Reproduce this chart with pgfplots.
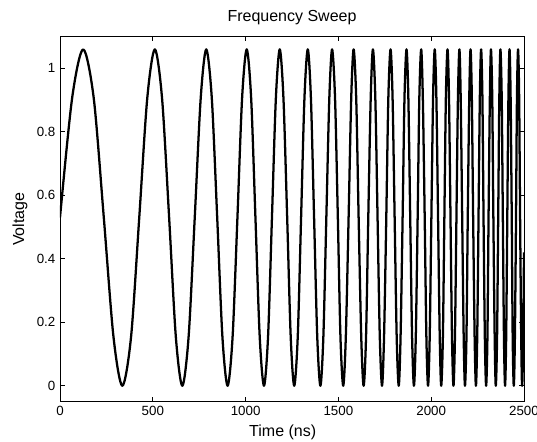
\documentclass[border=0pt]{standalone}
\usepackage{pgfplots}
\pgfplotsset{compat=1.18}
\usepackage{fontspec}
\setmainfont{Liberation Sans}
\begin{document}
\begin{tikzpicture}
\useasboundingbox (-45pt,-30.25pt) rectangle (357.75pt,301.25pt);
\begin{axis}[
  at={(0,0)}, anchor=south west,
  scale only axis, width=348pt, height=273.75pt,
  xmin=0, xmax=2500, ymin=-0.05, ymax=1.1,
  xtick={0,500,1000,1500,2000,2500},
  ytick={0,0.2,0.4,0.6,0.8,1},
  xtick pos=both, ytick pos=both,
  tick align=inside, major tick length=3.5pt,
  scaled x ticks=false, scaled y ticks=false,
  /pgf/number format/1000 sep={},
  /pgf/number format/assume math mode=true,
  tick label style={font=\fontsize{10}{11}\selectfont},
  axis line style={line width=0.6pt},
  every tick/.style={line width=0.6pt, black},
  title={Frequency Sweep},
  title style={at={(axis description cs:0.5,1)}, anchor=base, yshift=5pt, font=\fontsize{12}{14}\selectfont},
  xlabel={Time (ns)},
  xlabel style={at={(axis description cs:0.48,0)}, anchor=base, yshift=-26.5pt, font=\fontsize{12}{14}\selectfont},
  ylabel={Voltage},
  ylabel style={at={(axis description cs:-0.0862,0.5)}, anchor=center, font=\fontsize{12}{14}\selectfont},
]
\addplot[black, line width=1.7pt, smooth, line join=round] coordinates {
(0,0.53) (65,0.905) (125,1.06) (182,0.905) (236,0.53) (288,0.155) (336,0) (383,0.155)
(427,0.53) (470,0.905) (511,1.06) (550,0.905) (588,0.53) (624,0.155) (659,0) (693,0.155)
(726,0.53) (758,0.905) (788,1.06) (818,0.905) (847,0.53) (875,0.155) (903,0) (930,0.155)
(956,0.53) (981,0.905) (1006,1.06) (1030,0.905) (1053,0.53) (1076,0.155) (1099,0) (1121,0.155)
(1142,0.53) (1163,0.905) (1184,1.06) (1204,0.905) (1224,0.53) (1243,0.155) (1262,0) (1281,0.155)
(1299,0.53) (1317,0.905) (1335,1.06) (1352,0.905) (1369,0.53) (1386,0.155) (1403,0) (1419,0.155)
(1435,0.53) (1451,0.905) (1466,1.06) (1482,0.905) (1497,0.53) (1511,0.155) (1526,0) (1540,0.155)
(1555,0.53) (1569,0.905) (1582,1.06) (1596,0.905) (1609,0.53) (1623,0.155) (1636,0) (1649,0.155)
(1661,0.53) (1674,0.905) (1686,1.06) (1699,0.905) (1711,0.53) (1723,0.155) (1735,0) (1746,0.155)
(1758,0.53) (1769,0.905) (1781,1.06) (1792,0.905) (1803,0.53) (1814,0.155) (1825,0) (1835,0.155)
(1846,0.53) (1856,0.905) (1867,1.06) (1877,0.905) (1887,0.53) (1897,0.155) (1907,0) (1917,0.155)
(1927,0.53) (1936,0.905) (1946,1.06) (1955,0.905) (1965,0.53) (1974,0.155) (1983,0) (1992,0.155)
(2001,0.53) (2010,0.905) (2019,1.06) (2028,0.905) (2037,0.53) (2046,0.155) (2054,0) (2063,0.155)
(2071,0.53) (2079,0.905) (2088,1.06) (2096,0.905) (2104,0.53) (2112,0.155) (2120,0) (2128,0.155)
(2136,0.53) (2144,0.905) (2152,1.06) (2159,0.905) (2167,0.53) (2175,0.155) (2182,0) (2190,0.155)
(2197,0.53) (2205,0.905) (2212,1.06) (2219,0.905) (2226,0.53) (2234,0.155) (2241,0) (2248,0.155)
(2255,0.53) (2262,0.905) (2269,1.06) (2276,0.905) (2282,0.53) (2289,0.155) (2296,0) (2303,0.155)
(2309,0.53) (2316,0.905) (2322,1.06) (2329,0.905) (2335,0.53) (2342,0.155) (2348,0) (2355,0.155)
(2361,0.53) (2367,0.905) (2373,1.06) (2380,0.905) (2386,0.53) (2392,0.155) (2398,0) (2404,0.155)
(2410,0.53) (2416,0.905) (2422,1.06) (2428,0.905) (2434,0.53) (2439,0.155) (2445,0) (2451,0.155)
(2457,0.53) (2462,0.905) (2468,1.06) (2474,0.905) (2479,0.53) (2485,0.155) (2490,0) (2496,0.155)
(2500,0.42)
};
\end{axis}
\end{tikzpicture}
\end{document}
